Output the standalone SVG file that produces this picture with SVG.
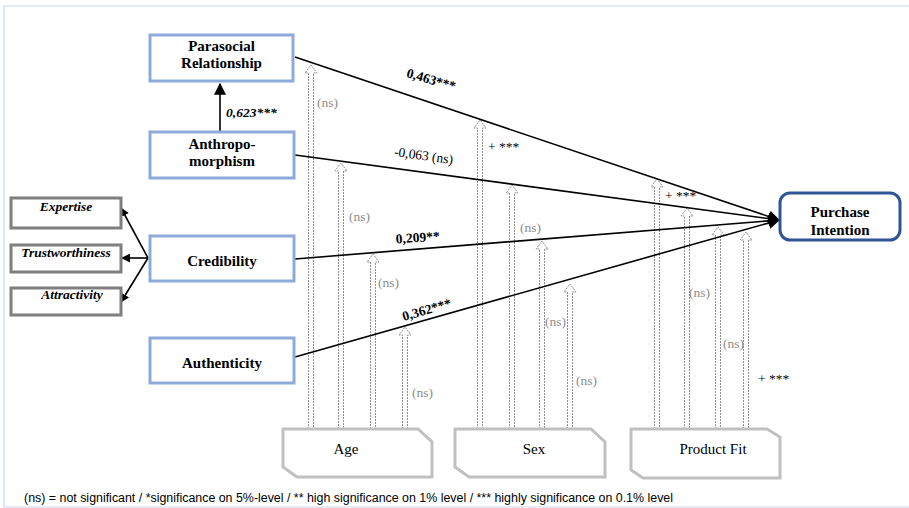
<svg xmlns="http://www.w3.org/2000/svg" width="909" height="508" viewBox="0 0 909 508">
  <defs>
    <marker id="solidHead" viewBox="0 0 10 10" refX="9" refY="5" markerWidth="9" markerHeight="9" markerUnits="userSpaceOnUse" orient="auto">
      <path d="M0,0 L10,5 L0,10 Z" fill="#000"/>
    </marker>
    <marker id="bigHead" viewBox="0 0 10 10" refX="9" refY="5" markerWidth="12" markerHeight="12" markerUnits="userSpaceOnUse" orient="auto">
      <path d="M0,0 L10,5 L0,10 Z" fill="#000"/>
    </marker>
  </defs>
  <style>
    .frame { fill: none; stroke: #c9d6ee; stroke-width: 1.2; }
    .construct { fill: #fff; stroke: #8eaadb; stroke-width: 3; }
    .outcome { fill: #fff; stroke: #2f5597; stroke-width: 3; }
    .facet { fill: #fff; stroke: #7f7f7f; stroke-width: 3; }
    .control { fill: #fff; stroke: #c0c0c0; stroke-width: 3; }
    .title { font-family: "Liberation Serif", "Times New Roman", serif; font-weight: bold; font-size: 15px; fill: #000; text-anchor: middle; }
    .facetText { font-family: "Liberation Serif", "Times New Roman", serif; font-weight: bold; font-style: italic; font-size: 13.5px; fill: #000; text-anchor: middle; }
    .ctrlText { font-family: "Liberation Serif", "Times New Roman", serif; font-size: 15px; fill: #000; text-anchor: middle; }
    .path { stroke: #000; stroke-width: 1.6; fill: none; }
    .moderator { fill: none; stroke: #8f8f8f; stroke-width: 1; stroke-dasharray: 2 1; }
    .coef { font-family: "Liberation Serif", "Times New Roman", serif; font-weight: bold; font-size: 13.5px; fill: #000; }
    .coefReg { font-family: "Liberation Serif", "Times New Roman", serif; font-size: 13.5px; fill: #000; }
    .ns { font-family: "Liberation Serif", "Times New Roman", serif; font-size: 13.5px; fill: #8c8c8c; }
    .sig { font-family: "Liberation Serif", "Times New Roman", serif; font-size: 13.5px; fill: #000; }
    .note { font-family: "Liberation Sans", Arial, sans-serif; font-size: 12.3px; fill: #000; }
  </style>

  <!-- page frame -->
  <path class="frame" d="M909,6 H4 V507 H909"/>

  <!-- connectors -->
  <g id="connectors">
    <!-- moderator arrows (hollow, dotted) -->
    <g id="moderators">
      <path class="moderator" d="M308.5,429 V73 H305 L311,65 L317,73 H313.5 V429"/>
      <path class="moderator" d="M338.5,429 V171 H335 L341,163 L347,171 H343.5 V429"/>
      <path class="moderator" d="M370.5,429 V262 H367 L373,254 L379,262 H375.5 V429"/>
      <path class="moderator" d="M402.5,429 V335 H399 L405,327 L411,335 H407.5 V429"/>
      <path class="moderator" d="M477.5,429 V128 H474 L480,120 L486,128 H482.5 V429"/>
      <path class="moderator" d="M509.5,429 V193 H506 L512,185 L518,193 H514.5 V429"/>
      <path class="moderator" d="M539.5,429 V249 H536 L542,241 L548,249 H544.5 V429"/>
      <path class="moderator" d="M567.5,429 V292 H564 L570,284 L576,292 H572.5 V429"/>
      <path class="moderator" d="M654.5,429 V187 H651 L657,179 L663,187 H659.5 V429"/>
      <path class="moderator" d="M684.5,429 V216 H681 L687,208 L693,216 H689.5 V429"/>
      <path class="moderator" d="M715.5,429 V235 H712 L718,227 L724,235 H720.5 V429"/>
      <path class="moderator" d="M743.5,429 V240 H740 L746,232 L752,240 H748.5 V429"/>
    </g>

    <!-- structural paths to purchase intention -->
    <line class="path" x1="295" y1="57" x2="779" y2="220" marker-end="url(#bigHead)"/>
    <line class="path" x1="295" y1="155" x2="779" y2="220" marker-end="url(#bigHead)"/>
    <line class="path" x1="295" y1="259" x2="779" y2="220" marker-end="url(#bigHead)"/>
    <line class="path" x1="295" y1="357" x2="779" y2="220" marker-end="url(#bigHead)"/>

    <!-- anthropomorphism -> parasocial relationship -->
    <line class="path" x1="220" y1="131" x2="220" y2="84" stroke-width="2" marker-end="url(#bigHead)"/>

    <!-- credibility facets -->
    <line class="path" x1="148" y1="258" x2="121" y2="208" marker-end="url(#solidHead)"/>
    <line class="path" x1="148" y1="258" x2="122" y2="258" marker-end="url(#solidHead)"/>
    <line class="path" x1="148" y1="258" x2="121" y2="302" marker-end="url(#solidHead)"/>

    <!-- coefficients -->
    <text class="coef" transform="translate(430,84) rotate(16)" text-anchor="middle">0,463***</text>
    <text class="coefReg" transform="translate(423,160) rotate(8)" text-anchor="middle">-0,063 (ns)</text>
    <text class="coef" transform="translate(418,242) rotate(-4)" text-anchor="middle">0,209**</text>
    <text class="coef" transform="translate(428,314) rotate(-16)" text-anchor="middle">0,362***</text>
    <text class="coef" x="226" y="117" font-style="italic">0,623***</text>

    <!-- moderation results -->
    <text class="ns" x="317" y="107">(ns)</text>
    <text class="ns" x="349" y="221">(ns)</text>
    <text class="ns" x="378" y="287">(ns)</text>
    <text class="ns" x="412" y="397">(ns)</text>
    <text class="sig" x="488" y="151">+ ***</text>
    <text class="ns" x="520" y="232">(ns)</text>
    <text class="ns" x="545" y="326">(ns)</text>
    <text class="ns" x="576" y="385">(ns)</text>
    <text class="sig" x="665" y="200">+ ***</text>
    <text class="ns" x="689" y="297">(ns)</text>
    <text class="ns" x="723" y="348">(ns)</text>
    <text class="sig" x="758" y="383">+ ***</text>
  </g>

  <!-- constructs -->
  <g id="parasocial">
    <rect class="construct" x="150" y="35" width="143" height="46"/>
    <text class="title" x="221.5" y="51">Parasocial</text>
    <text class="title" x="221.5" y="68">Relationship</text>
  </g>
  <g id="anthropomorphism">
    <rect class="construct" x="150" y="132" width="144" height="46"/>
    <text class="title" x="222" y="149">Anthropo-</text>
    <text class="title" x="222" y="166">morphism</text>
  </g>
  <g id="credibility">
    <rect class="construct" x="150" y="236" width="144" height="45"/>
    <text class="title" x="222" y="266">Credibility</text>
  </g>
  <g id="authenticity">
    <rect class="construct" x="150" y="338" width="144" height="45"/>
    <text class="title" x="222" y="368">Authenticity</text>
  </g>
  <g id="purchase-intention">
    <rect class="outcome" x="780" y="193" width="120" height="47" rx="10" ry="10"/>
    <text class="title" x="840" y="217">Purchase</text>
    <text class="title" x="840" y="235">Intention</text>
  </g>

  <!-- credibility facets -->
  <g id="expertise">
    <rect class="facet" x="11" y="198" width="110" height="30"/>
    <text class="facetText" x="66" y="211">Expertise</text>
  </g>
  <g id="trustworthiness">
    <rect class="facet" x="11" y="245" width="110" height="27"/>
    <text class="facetText" x="66" y="257">Trustworthiness</text>
  </g>
  <g id="attractivity">
    <rect class="facet" x="11" y="288" width="110" height="27"/>
    <text class="facetText" x="72" y="299">Attractivity</text>
  </g>

  <!-- control variables -->
  <g id="age">
    <path class="control" d="M283,429 H418 L432,442 V477 H297 L283,467 Z"/>
    <text class="ctrlText" x="346" y="454">Age</text>
  </g>
  <g id="sex">
    <path class="control" d="M455,429 H591 L605,442 V477 H469 L455,467 Z"/>
    <text class="ctrlText" x="534" y="454">Sex</text>
  </g>
  <g id="product-fit">
    <path class="control" d="M631,429 H767 L780,437 V478 H643 L631,470 Z"/>
    <text class="ctrlText" x="713" y="454">Product Fit</text>
  </g>

  <!-- legend -->
  <text class="note" x="24" y="502" textLength="649" lengthAdjust="spacingAndGlyphs">(ns) = not significant / *significance on 5%-level / ** high significance on 1% level / *** highly significance on 0.1% level</text>
</svg>
